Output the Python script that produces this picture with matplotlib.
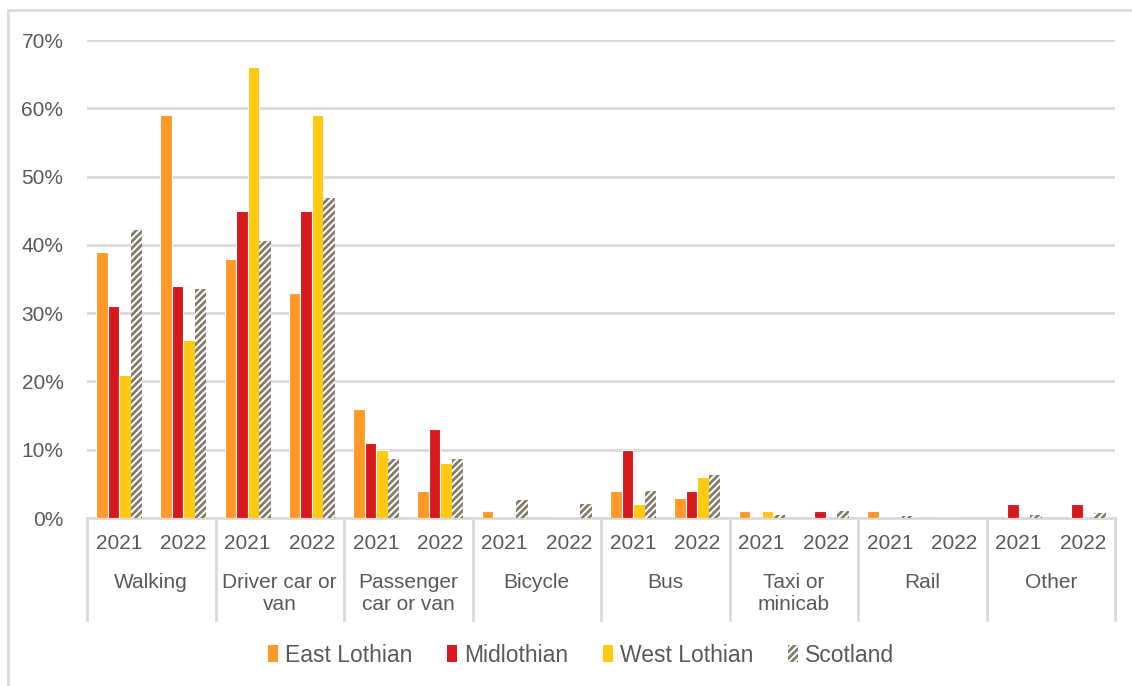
import numpy as np
import matplotlib.pyplot as plt
from matplotlib.patches import Rectangle
from matplotlib.lines import Line2D

plt.rcParams['font.family'] = ['Liberation Sans', 'DejaVu Sans']
plt.rcParams['hatch.linewidth'] = 2.0

modes = ['Walking', 'Driver car or\nvan', 'Passenger\ncar or van', 'Bicycle', 'Bus',
         'Taxi or\nminicab', 'Rail', 'Other']
years = ['2021', '2022']

# share of journeys (%), ordered mode by mode, 2021 then 2022
east_lothian = [39, 59, 38, 33, 16, 4, 1, 0, 4, 3, 1, 0, 1, 0, 0, 0]
midlothian = [31, 34, 45, 45, 11, 13, 0, 0, 10, 4, 0, 1, 0, 0, 2, 2]
west_lothian = [21, 26, 66, 59, 10, 8, 0, 0, 2, 6, 1, 0, 0, 0, 0, 0]
scotland = [42.2, 33.6, 40.6, 46.9, 8.6, 8.6, 2.7, 2.0, 3.9, 6.3, 0.5, 1.0, 0.3, 0.0, 0.5, 0.7]

series = ['East Lothian', 'Midlothian', 'West Lothian', 'Scotland']
colours = ['#FF9A28', '#D7191F', '#FFC90E', '#857B6E']

grey = '#595959'
line_grey = '#D9D9D9'
fs = 15

fig = plt.figure(figsize=(11.32, 6.86), dpi=100)
ax = fig.add_axes([87/1132, 1-518/686, 1028/1132, 478/686])

x = np.arange(len(east_lothian))
w = 0.179
offs = np.array([-1.5, -0.5, 0.5, 1.5]) * w
vals = [east_lothian, midlothian, west_lothian, scotland]
for i in range(3):
    ax.bar(x + offs[i], vals[i], width=w, color=colours[i], edgecolor='white',
           linewidth=0.8, zorder=3)
ax.bar(x + offs[3], scotland, width=w, color='white', edgecolor=colours[3],
       hatch='/////', linewidth=0, zorder=3)

ax.set_xlim(-0.5, len(x) - 0.5)
ax.set_ylim(0, 70)
ax.set_yticks(np.arange(0, 71, 10))
ax.set_yticklabels(['%d%%' % v for v in range(0, 71, 10)], fontsize=fs, color=grey)
ax.yaxis.grid(True, color=line_grey, linewidth=2)
ax.set_axisbelow(True)
ax.tick_params(axis='y', length=0, pad=17)
ax.tick_params(axis='x', length=0, bottom=False, labelbottom=False)
for s in ['top', 'right', 'left']:
    ax.spines[s].set_visible(False)
ax.spines['bottom'].set_color(line_grey)
ax.spines['bottom'].set_linewidth(2)

# two-level category axis
trans = ax.get_xaxis_transform()
for i in range(len(x)):
    ax.text(i, -0.053, years[i % 2], transform=trans, ha='center', va='center',
            fontsize=fs, color=grey)
for j, m in enumerate(modes):
    ax.text(2*j + 0.5, -0.116, m, transform=trans, ha='center', va='top',
            fontsize=fs, color=grey, linespacing=1.2)
for b in np.arange(-0.5, len(x), 2):
    ax.add_line(Line2D([b, b], [0, -0.213], transform=trans, color=line_grey,
                       linewidth=2, clip_on=False))

# outer chart frame
fig.patches.append(Rectangle((8/1132, -0.05), 1.2, 1 - 10/686 + 0.05,
                             transform=fig.transFigure, fill=False,
                             edgecolor=line_grey, linewidth=2))

handles = [Rectangle((0, 0), 1, 1, facecolor=c, edgecolor='none') for c in colours[:3]]
handles.append(Rectangle((0, 0), 1, 1, facecolor='white', edgecolor=colours[3],
                         hatch='/////', linewidth=0))
fig.legend(handles, series, loc='center', bbox_to_anchor=(581/1132, 1-655/686),
           ncol=4, frameon=False, fontsize=16.5, labelcolor=grey,
           handlelength=0.45, handleheight=0.75, handletextpad=0.3, columnspacing=1.5)

fig.savefig('out.png', dpi=100)
